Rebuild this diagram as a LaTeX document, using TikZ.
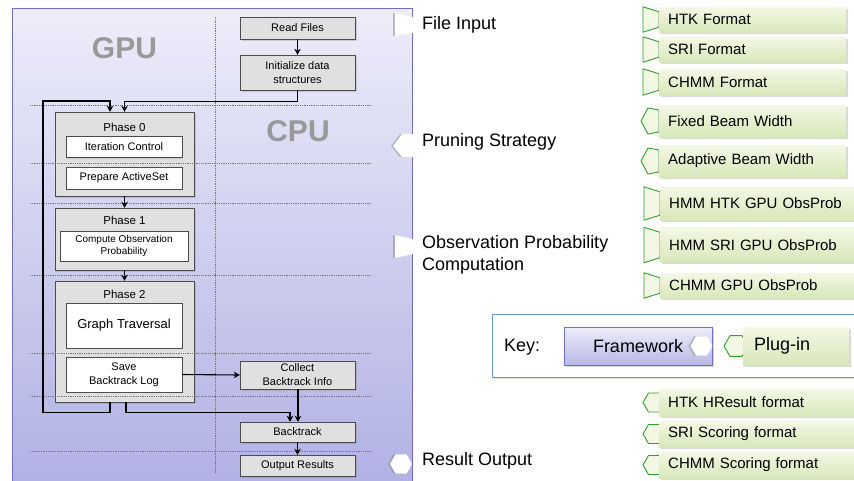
\documentclass[tikz,border=0pt]{standalone}
\usepackage{fontspec}
\setmainfont{Liberation Sans}
\usetikzlibrary{positioning, arrows.meta, shadows, backgrounds, calc}

\definecolor{fwtop}{RGB}{237,237,250}
\definecolor{fwbot}{RGB}{176,176,228}
\definecolor{fwline}{RGB}{110,110,200}
\definecolor{plugtop}{RGB}{243,248,228}
\definecolor{plugbot}{RGB}{216,231,186}
\definecolor{plugline}{RGB}{45,160,45}
\definecolor{keyline}{RGB}{100,150,210}
\definecolor{boxgray}{RGB}{224,224,224}

% plug-in joints (drawn behind the plug-in boxes)
\newcommand{\trapjoint}[1]{\draw[plugjoint] ([yshift=-5pt]#1.north west) -- ([xshift=-16pt]#1.north west) -- ([xshift=-16pt]#1.south west) -- ([yshift=5pt]#1.south west) -- cycle;}
\newcommand{\pentjoint}[1]{\draw[plugjoint] ([yshift=11pt]#1.west) -- ([shift={(-11pt,13pt)}]#1.west) -- ([xshift=-18pt]#1.west) -- ([shift={(-11pt,-13pt)}]#1.west) -- ([yshift=-11pt]#1.west) -- cycle;}
\newcommand{\hexjoint}[1]{\draw[plugjoint] ([xshift=6pt]#1.west) -- ++(120:11pt) -- ++(180:11pt) -- ++(240:11pt) -- ++(300:11pt) -- ++(0:11pt) -- cycle;}

\begin{document}
\begin{tikzpicture}[
    x=1pt, y=-1pt,
    panel/.style={draw=fwline, line width=1pt, top color=fwtop, bottom color=fwbot},
    cpubox/.style={draw=black!70, fill=boxgray, minimum width=115pt, inner sep=0pt, align=center, font=\fontsize{11}{14}\selectfont, drop shadow={opacity=0.3, shadow xshift=1.5pt, shadow yshift=-1.5pt}},
    phasebox/.style={draw=black!70, fill=boxgray, minimum width=139pt, inner sep=0pt, drop shadow={opacity=0.3, shadow xshift=1.5pt, shadow yshift=-1.5pt}},
    stepbox/.style={draw=black!70, fill=white, minimum width=116pt, inner sep=0pt, align=center, font=\fontsize{11}{14}\selectfont, drop shadow={opacity=0.25, shadow xshift=1pt, shadow yshift=-1pt}},
    phasetitle/.style={inner sep=0pt, font=\fontsize{11.5}{14}\selectfont},
    bigtag/.style={inner sep=0pt, font=\fontsize{30}{32}\selectfont\bfseries, text=black!40},
    sepline/.style={densely dotted, draw=black!55, line width=0.8pt},
    flow/.style={-{Stealth[length=6pt, width=6.5pt]}, line width=1.1pt},
    socket/.style={fill=white, drop shadow={opacity=0.45, shadow xshift=-2pt, shadow yshift=0pt}},
    sidelabel/.style={anchor=west, inner sep=0pt, align=left, font=\fontsize{18}{22}\selectfont},
    plugbox/.style={anchor=west, top color=plugtop, bottom color=plugbot, inner xsep=9pt, inner ysep=0pt, align=left, font=\fontsize{15}{18}\selectfont, drop shadow={opacity=0.3, shadow xshift=1.5pt, shadow yshift=-1.5pt}},
    plugjoint/.style={draw=plugline, fill=plugtop, line width=0.9pt, line join=round}
]
\useasboundingbox (0,0) rectangle (854,480);

% ================= Framework panel =================
\node[panel, anchor=north west, minimum width=400pt, minimum height=482pt] (fw) at (12,8) {};

% sockets cut into the right edge of the panel
\path[socket] (413,17) -- (395,13) -- (395,36) -- (413,33) -- cycle;
\path[socket] (413,134) -- (402,134) -- (393,146) -- (402,157) -- (413,157) -- cycle;
\path[socket] (413,239) -- (395,235) -- (395,258) -- (413,254) -- cycle;
\path[socket] (412,464) -- ++(120:11pt) -- ++(180:11pt) -- ++(240:11pt) -- ++(300:11pt) -- ++(0:11pt) -- cycle;

\node[bigtag] (gputag) at (124.5,48) {GPU};
\node[bigtag] (cputag) at (298,131) {CPU};

% CPU column
\node[cpubox, minimum height=22pt] (read) at (297.5,28) {Read Files};
\node[cpubox, minimum height=35pt] (init) at (297.5,72.5) {Initialize data\\structures};
\node[cpubox, minimum height=28pt] (collect) at (297.5,375) {Collect\\Backtrack Info};
\node[cpubox, minimum height=20pt] (backtrack) at (297.5,432) {Backtrack};
\node[cpubox, minimum height=21pt] (output) at (297.5,465.5) {Output Results};

% GPU column: phases
\node[phasebox, minimum height=84pt] (phase0) at (124.5,154) {};
\node[phasetitle] (ph0title) at (124.5,127) {Phase 0};
\node[stepbox, minimum height=21pt] (iter) at (124,147) {Iteration Control};
\node[stepbox, minimum height=22pt] (prep) at (124,178) {Prepare ActiveSet};

\node[phasebox, minimum height=62pt] (phase1) at (124.5,239) {};
\node[phasetitle] (ph1title) at (124.5,220) {Phase 1};
\node[stepbox, minimum width=128pt, minimum height=30pt, font=\fontsize{10}{12.5}\selectfont] (compute) at (124,246) {Compute Observation\\Probability};

\node[phasebox, minimum height=121pt] (phase2) at (124.5,341.5) {};
\node[phasetitle] (ph2title) at (124.5,294) {Phase 2};
\node[stepbox, minimum height=45pt, font=\fontsize{13}{15}\selectfont] (graph) at (124,325.5) {Graph Traversal};
\node[stepbox, minimum height=35pt] (save) at (124,374.5) {Save\\Backtrack Log};

% separators
\draw[sepline] (215,17) -- (215,474);
\draw[sepline] (30,105) -- (372,105) (30,163) -- (372,163) (30,203) -- (372,203)
    (30,275) -- (372,275) (30,353) -- (372,353) (30,396) -- (372,396) (30,451) -- (372,451);

% ================= Flow =================
\coordinate (rail) at (43,101);

\draw[flow] (read.south) -- (init.south |- init.north);
\draw[flow] (init.south) -- ++(0,11) -| (phase0.north);
\draw[flow] ([xshift=-14.5pt]phase2.south) -- ++(0,10) -| (rail) -| ([xshift=-14.5pt]phase0.north);
\draw[flow] (phase0.south) -- (phase1.north);
\draw[flow] (phase1.south) -- (phase2.north);
\draw[flow] (save.east) -- (collect.west);
\draw[flow] ([xshift=1.5pt]phase2.south) -- ++(0,10) -| ([xshift=-7.5pt]backtrack.north);
\draw[flow] ([xshift=0.5pt]collect.south) -- ([xshift=0.5pt]backtrack.north);
\draw[flow] (backtrack.south) -- (output.north);

% ================= Side labels =================
\node[sidelabel] (lblinput) at (422,25) {File Input};
\node[sidelabel] (lblprune) at (422,142) {Pruning Strategy};
\node[sidelabel] (lblobs) at (422,255) {Observation Probability\\Computation};
\node[sidelabel] (lblout) at (422,461) {Result Output};

% ================= Key =================
\node[anchor=north west, draw=keyline, line width=0.9pt, fill=white, minimum width=370pt, minimum height=63pt, drop shadow={opacity=0.25, shadow xshift=1.5pt, shadow yshift=-1.5pt}] (keyframe) at (492,314) {};
\node[sidelabel] (keylbl) at (504,347) {Key:};
\node[draw=fwline, line width=0.9pt, top color=fwtop, bottom color=fwbot!90, minimum width=148pt, minimum height=38pt, inner sep=0pt, font=\fontsize{18}{22}\selectfont, drop shadow={opacity=0.3, shadow xshift=1.5pt, shadow yshift=-1.5pt}] (keyfw) at (638,346) {Framework};
\path[socket] (keyfw.east) -- ++(120:11pt) -- ++(180:11pt) -- ++(240:11pt) -- ++(300:11pt) -- ++(0:11pt) -- cycle;
\coordinate (keyjoint) at (748,346);
\draw[plugjoint] (keyjoint) -- ++(120:12pt) -- ++(180:12pt) -- ++(240:12pt) -- ++(300:12pt) -- ++(0:12pt) -- cycle;
\node[plugbox, text width=84pt, minimum height=38pt, inner xsep=11pt, font=\fontsize{18}{22}\selectfont] (keyplug) at (743,346) {Plug-in};

% ================= Plug-ins =================
\node[plugbox, text width=169pt, minimum height=25pt] (htk) at (659,19.5) {HTK Format};
\node[plugbox, text width=169pt, minimum height=25pt] (sri) at (659,49.5) {SRI Format};
\node[plugbox, text width=169pt, minimum height=26pt] (chmm) at (659,82) {CHMM Format};

\node[plugbox, text width=169pt, minimum height=32pt] (fixed) at (659,121) {Fixed Beam Width};
\node[plugbox, text width=169pt, minimum height=32pt] (adaptive) at (659,161) {Adaptive Beam Width};

\node[plugbox, text width=176pt, minimum height=33pt] (hmmhtk) at (660,203.5) {HMM HTK GPU ObsProb};
\node[plugbox, text width=176pt, minimum height=35pt] (hmmsri) at (660,245) {HMM SRI GPU ObsProb};
\node[plugbox, text width=176pt, minimum height=25pt] (chmmgpu) at (660,285.5) {CHMM GPU ObsProb};

\node[plugbox, text width=177pt, minimum height=27pt] (hresult) at (659,402.5) {HTK HResult format};
\node[plugbox, text width=177pt, minimum height=26pt] (sriscore) at (659,434) {SRI Scoring format};
\node[plugbox, text width=177pt, minimum height=26pt] (chmmscore) at (659,465) {CHMM Scoring format};

\begin{scope}[on background layer]
\trapjoint{htk} \trapjoint{sri} \trapjoint{chmm}
\pentjoint{fixed} \pentjoint{adaptive}
\trapjoint{hmmhtk} \trapjoint{hmmsri} \trapjoint{chmmgpu}
\hexjoint{hresult} \hexjoint{sriscore} \hexjoint{chmmscore}
\end{scope}

\end{tikzpicture}
\end{document}
